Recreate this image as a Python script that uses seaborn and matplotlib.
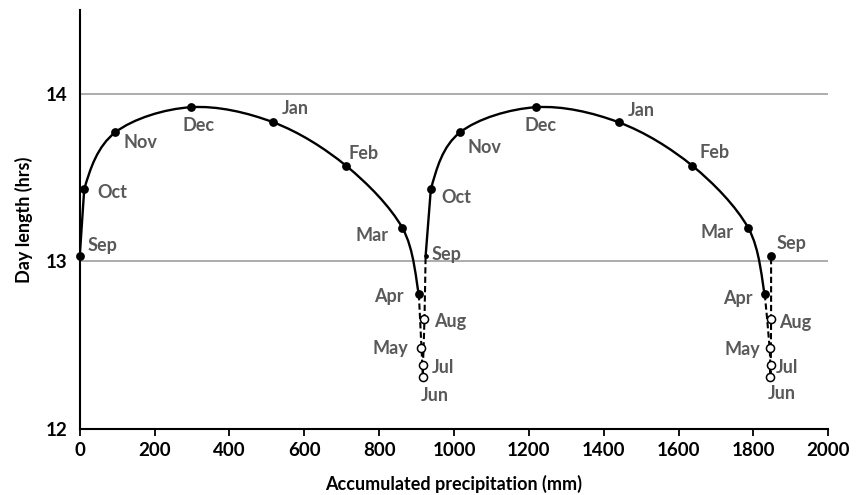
"""
Day length vs accumulated precipitation - two seasonal cycles.
Smoothed line (Excel-style) through monthly points, dashed in the dry months.
"""

import numpy as np
import pandas as pd
import matplotlib
matplotlib.use("Agg")
import matplotlib.pyplot as plt
from matplotlib.path import Path
from matplotlib.patches import PathPatch
import seaborn as sns

# --- Data ---
MONTHS = ["Sep", "Oct", "Nov", "Dec", "Jan", "Feb", "Mar",
          "Apr", "May", "Jun", "Jul", "Aug", "Sep"]
DAY_LENGTH = [13.03, 13.43, 13.77, 13.92, 13.83, 13.57, 13.20,
              12.805, 12.485, 12.31, 12.38, 12.655, 13.03]
PRECIP_YEAR1 = [0, 12, 95, 297, 517, 712, 862,
                906, 913, 917, 917, 921, 924]
PRECIP_YEAR2 = [924, 938, 1016, 1219, 1440, 1637, 1786,
                1830, 1843, 1845, 1846, 1847, 1847]

WET = slice(0, 8)    # Sep .. Apr  (solid)
DRY = slice(7, 13)   # Apr .. Sep  (dashed)

# label offsets in pixels (dx, dy down, alignment)
OFFSETS_YEAR1 = [(8, -11, "left"), (13, 3, "left"), (8, 10, "left"),
                 (8, 18, "center"), (9, -14, "left"), (2, -12, "left"),
                 (-14, 8, "right"), (-15, 2, "right"), (-13, 1, "right"),
                 (-2, 18, "left"), (9, 2, "left"), (10, 2, "left"),
                 (6, -2, "left")]
OFFSETS_YEAR2 = [None, (11, 8, "left"), (7, 15, "left"),
                 (5, 18, "center"), (9, -12, "left"), (7, -13, "left"),
                 (-15, 5, "right"), (-12, 4, "right"), (-9, 2, "right"),
                 (-3, 16, "left"), (5, 2, "left"), (8, 3, "left"),
                 (5, -13, "left")]

LABEL_COLOR = "#595959"
GRID_COLOR = "#a6a6a6"


def smooth_path(xs, ys, straight_first=False):
    """Bezier path through the points (Catmull-Rom style, like Excel smoothing)."""
    pts = np.column_stack([xs, ys]).astype(float)
    n = len(pts)
    verts = [pts[0]]
    codes = [Path.MOVETO]
    for i in range(n - 1):
        p0 = pts[max(i - 1, 0)]
        p1 = pts[i]
        p2 = pts[i + 1]
        p3 = pts[min(i + 2, n - 1)]
        c1 = p1 + (p2 - p0) / 6.0
        c2 = p2 - (p3 - p1) / 6.0
        if straight_first and i == 0:
            c1 = p1 + (p2 - p1) / 3.0
            c2 = p2 - (p2 - p1) / 3.0
        verts += [c1, c2, p2]
        codes += [Path.CURVE4] * 3
    return Path(verts, codes)


sns.set_theme(style="white")
plt.rcParams["font.family"] = ["Lato", "DejaVu Sans"]
plt.rcParams["font.weight"] = "bold"

fig = plt.figure(figsize=(8.6, 4.95), dpi=100)
ax = fig.add_axes([0.0927, 0.1333, 0.8705, 0.8465])

for xs in (PRECIP_YEAR1, PRECIP_YEAR2):
    ax.add_patch(PathPatch(smooth_path(xs[WET], DAY_LENGTH[WET], straight_first=True),
                           fill=False, edgecolor="black", lw=1.7, zorder=3))
    ax.add_patch(PathPatch(smooth_path(xs[DRY], DAY_LENGTH[DRY]),
                           fill=False, edgecolor="black", lw=1.5,
                           linestyle=(0, (3, 1.5)), zorder=3))

df = pd.DataFrame({
    "precip": PRECIP_YEAR1 + PRECIP_YEAR2[1:],
    "day": DAY_LENGTH + DAY_LENGTH[1:],
    "month": MONTHS + MONTHS[1:],
})
filled = df.iloc[[0, 1, 2, 3, 4, 5, 6, 7, 13, 14, 15, 16, 17, 18, 19, 24]]
hollow = df.iloc[[8, 9, 10, 11, 20, 21, 22, 23]]
small = df.iloc[[12]]

sns.scatterplot(data=filled, x="precip", y="day", ax=ax, color="black",
                s=40, edgecolor="black", linewidth=0, zorder=5, clip_on=False)
sns.scatterplot(data=hollow, x="precip", y="day", ax=ax, color="white",
                s=34, edgecolor="black", linewidth=1.1, zorder=5)
sns.scatterplot(data=small, x="precip", y="day", ax=ax, color="black",
                s=12, edgecolor="black", linewidth=0, zorder=5)

for xs, offsets in ((PRECIP_YEAR1, OFFSETS_YEAR1), (PRECIP_YEAR2, OFFSETS_YEAR2)):
    for x, y, m, off in zip(xs, DAY_LENGTH, MONTHS, offsets):
        if off is None:
            continue
        dx, dy, ha = off
        ax.annotate(m, (x, y), xytext=(dx, -dy), textcoords="offset pixels",
                    ha=ha, va="center", fontsize=13, fontweight="bold",
                    color=LABEL_COLOR, zorder=6)

ax.set_xlim(0, 2000)
ax.set_ylim(12, 14.5)
ax.set_xticks(np.arange(0, 2001, 200))
ax.set_yticks([12, 13, 14])
ax.yaxis.grid(True, color=GRID_COLOR, lw=1.3)
ax.xaxis.grid(False)
ax.set_axisbelow(True)

for side in ("top", "right"):
    ax.spines[side].set_visible(False)
for side in ("left", "bottom"):
    ax.spines[side].set_color("black")
    ax.spines[side].set_linewidth(1.5)

ax.tick_params(axis="x", which="major", direction="out", length=5, width=1.3,
               color="black", labelsize=13.5, labelcolor="black", pad=4, bottom=True)
ax.tick_params(axis="y", length=0, labelsize=13.5, labelcolor="black", pad=9)
for lbl in ax.get_xticklabels() + ax.get_yticklabels():
    lbl.set_fontweight("bold")

ax.set_xlabel("Accumulated precipitation (mm)", fontsize=13, fontweight="bold",
              color="black", labelpad=12)
ax.set_ylabel("Day length (hrs)", fontsize=13, fontweight="bold",
              color="black", labelpad=9)

fig.savefig("out.png", dpi=100)
